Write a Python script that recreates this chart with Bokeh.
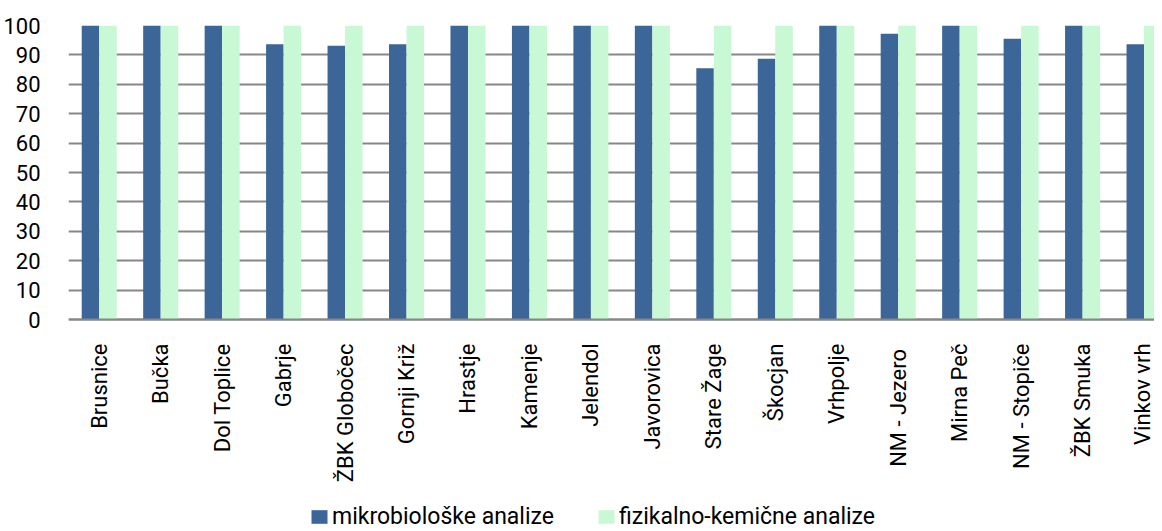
import numpy as np
from bokeh.plotting import figure
from bokeh.models import Range1d, FixedTicker, Legend, LegendItem, ColumnDataSource
from bokeh.transform import dodge
from bokeh.embed import file_html
from bokeh.resources import INLINE

categories = ["Brusnice", "Bučka", "Dol Toplice", "Gabrje", "ŽBK Globočec",
              "Gornji Križ", "Hrastje", "Kamenje", "Jelendol", "Javorovica",
              "Stare Žage", "Škocjan", "Vrhpolje", "NM  - Jezero", "Mirna Peč",
              "NM - Stopiče", "ŽBK Smuka", "Vinkov vrh"]
mikrobioloske = [100, 100, 100, 93.6, 93.1, 93.6, 100, 100, 100, 100,
                 85.5, 88.7, 100, 97.2, 100, 95.5, 100, 93.6]
fizikalno_kemicne = [100, 100, 100, 100, 100, 100, 100, 100, 100, 100,
                     100, 100, 100, 100, 100, 100, 100, 100]
series_names = ["mikrobiološke analize", "fizikalno-kemične analize"]
y_ticks = [0, 10, 20, 30, 40, 50, 60, 70, 80, 90, 100]

FONT = "Roboto"
FS = "22px"
DARK = "#3C6598"
LIGHT = "#C8F9D4"
GRID = "#878787"

TOP = 25          # px above the value 100
PLOT_H = 294      # px between 0 and 100
FRAME_H = 505     # frame reaches down to the legend row
px_per_unit = PLOT_H / 100.0
y_start = -(FRAME_H - PLOT_H) / px_per_unit

xpos = np.arange(len(categories)) + 0.5
src = ColumnDataSource(dict(x=xpos, m=mikrobioloske, f=fizikalno_kemicne))

p = figure(frame_width=1086, frame_height=FRAME_H,
           x_range=Range1d(0, 17.67), y_range=Range1d(y_start, 100),
           output_backend="svg", toolbar_location=None,
           min_border_left=60, min_border_right=0, min_border_top=TOP,
           min_border_bottom=0)
p.outline_line_color = None

bw = 0.285
r1 = p.vbar(x=dodge("x", -0.1425), top="m", bottom=0, width=bw, source=src,
            fill_color=DARK, line_color=None)
r2 = p.vbar(x=dodge("x", 0.1425), top="f", bottom=0, width=bw, source=src,
            fill_color=LIGHT, line_color=None)

# y axis
p.yaxis.ticker = FixedTicker(ticks=y_ticks)
p.yaxis.axis_line_color = None
p.yaxis.major_tick_line_color = None
p.yaxis.minor_tick_line_color = None
p.yaxis.major_label_standoff = 22
p.yaxis.major_label_text_font = FONT
p.yaxis.major_label_text_font_size = FS
p.yaxis.major_label_text_color = "#000000"

# x axis, pinned at value 0
p.xaxis.fixed_location = 0
p.xaxis.ticker = FixedTicker(ticks=list(xpos))
p.xaxis.major_label_overrides = {float(v): c for v, c in zip(xpos, categories)}
p.xaxis.major_label_orientation = np.pi / 2
p.xaxis.axis_line_color = GRID
p.xaxis.axis_line_width = 2
p.xaxis.major_tick_line_color = None
p.xaxis.minor_tick_line_color = None
p.xaxis.major_label_standoff = 18
p.xaxis.major_label_text_font = FONT
p.xaxis.major_label_text_font_size = FS
p.xaxis.major_label_text_color = "#000000"

p.xgrid.grid_line_color = None
p.ygrid.grid_line_color = GRID
p.ygrid.grid_line_width = 2

legend = Legend(items=[LegendItem(label=series_names[0], renderers=[r1]),
                       LegendItem(label=series_names[1], renderers=[r2])],
                orientation="horizontal", location=(241, 0))
legend.border_line_color = None
legend.background_fill_alpha = 0
legend.label_text_font = FONT
legend.label_text_font_size = "23px"
legend.label_text_color = "#000000"
legend.glyph_width = 20
legend.glyph_height = 17
legend.label_standoff = 3
legend.spacing = 42
legend.padding = 0
legend.margin = 0
legend.label_height = 17
p.add_layout(legend, "center")

open("out.html", "w").write(file_html(p, INLINE))
